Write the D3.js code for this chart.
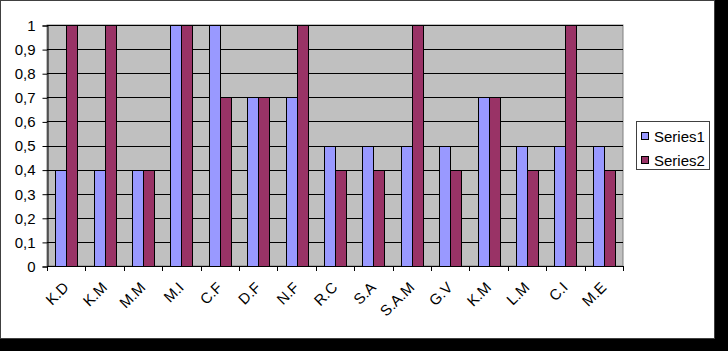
<!DOCTYPE html>
<html>
<head>
<meta charset="utf-8">
<script src="https://cdn.jsdelivr.net/npm/d3@7/dist/d3.min.js"></script>
<style>
  html, body { margin: 0; padding: 0; background: #000; }
  svg { display: block; }
  text { font-family: "Liberation Sans", Arial, sans-serif; }
</style>
</head>
<body>
<div id="chart"></div>
<script>
var categories = ["K.D", "K.M", "M.M", "M.I", "C.F", "D.F", "N.F", "R.C", "S.A", "S.A.M", "G.V", "K.M", "L.M", "C.I", "M.E"];
var series1 = [0.4, 0.4, 0.4, 1, 1, 0.7, 0.7, 0.5, 0.5, 0.5, 0.5, 0.7, 0.5, 0.5, 0.5];
var series2 = [1, 1, 0.4, 1, 0.7, 0.7, 1, 0.4, 0.4, 1, 0.4, 0.7, 0.4, 1, 0.4];
var seriesNames = ["Series1", "Series2"];
var yTicks = [0, 0.1, 0.2, 0.3, 0.4, 0.5, 0.6, 0.7, 0.8, 0.9, 1];

var w = 728, h = 351;
var plotLeft = 47, plotRight = 623, plotTop = 25, plotBottom = 266;
var colors = ["#9999FF", "#993366"];

var svg = d3.select("#chart").append("svg")
    .attr("width", w)
    .attr("height", h);

// background: black shadow, white chart area
svg.append("rect").attr("x", 0).attr("y", 0).attr("width", w).attr("height", h).attr("fill", "#000");
svg.append("rect")
    .attr("x", 0.5).attr("y", 0.5)
    .attr("width", 714).attr("height", 338)
    .attr("fill", "#fff")
    .attr("stroke", "#404040");

var xScale = d3.scaleBand()
    .domain(d3.range(categories.length))
    .range([plotLeft, plotRight]);
var yScale = d3.scaleLinear().domain([0, 1]).range([plotBottom, plotTop]);

// plot area
svg.append("rect")
    .attr("x", plotLeft).attr("y", plotTop)
    .attr("width", plotRight - plotLeft).attr("height", plotBottom - plotTop)
    .attr("fill", "#C0C0C0")
    .attr("stroke", "#808080");

// gridlines
svg.append("g")
    .selectAll("line")
    .data(yTicks.slice(1))
    .enter()
    .append("line")
    .attr("x1", plotLeft).attr("x2", plotRight)
    .attr("y1", function(d) { return Math.round(yScale(d)) + 0.5; })
    .attr("y2", function(d) { return Math.round(yScale(d)) + 0.5; })
    .attr("stroke", "#000");

// bars
var bw = xScale.bandwidth();
var barW = bw / 3.5;
var gap = (bw - 2 * barW) / 2;
var allSeries = [series1, series2];
allSeries.forEach(function(s, si) {
  svg.append("g")
      .selectAll("rect")
      .data(s)
      .enter()
      .append("rect")
      .attr("x", function(d, i) { return Math.round(xScale(i) + gap + si * barW) + 0.5; })
      .attr("y", function(d) { return Math.round(yScale(d)) + 0.5; })
      .attr("width", Math.round(barW))
      .attr("height", function(d) { return Math.round(yScale(0)) - Math.round(yScale(d)); })
      .attr("fill", colors[si])
      .attr("stroke", "#000")
      .attr("stroke-width", 1);
});

// y axis
var yAxis = d3.axisLeft(yScale)
    .tickValues(yTicks)
    .tickSize(5)
    .tickPadding(7)
    .tickFormat(function(d) { return d3.format(".1~f")(d).replace(".", ","); });
var gy = svg.append("g")
    .attr("transform", "translate(" + (plotLeft + 0.5) + ",0.5)")
    .call(yAxis);
gy.select(".domain").attr("stroke", "#000");
gy.selectAll("text").attr("font-size", 15).attr("fill", "#000")
    .attr("font-family", "'Liberation Sans', Arial, sans-serif");

// x axis: ticks at category boundaries
var gx = svg.append("g");
gx.append("line")
    .attr("x1", plotLeft).attr("x2", plotRight + 0.5)
    .attr("y1", plotBottom + 0.5).attr("y2", plotBottom + 0.5)
    .attr("stroke", "#000");
gx.selectAll("line.tick")
    .data(d3.range(categories.length + 1))
    .enter()
    .append("line")
    .attr("class", "tick")
    .attr("x1", function(i) { return Math.round(plotLeft + i * bw) + 0.5; })
    .attr("x2", function(i) { return Math.round(plotLeft + i * bw) + 0.5; })
    .attr("y1", plotBottom)
    .attr("y2", plotBottom + 5)
    .attr("stroke", "#000");
gx.selectAll("text")
    .data(categories)
    .enter()
    .append("text")
    .attr("transform", function(d, i) {
      return "translate(" + (xScale(i) + bw / 2 - 4) + "," + (plotBottom + 15) + ") rotate(-45)";
    })
    .attr("text-anchor", "end")
    .attr("dy", "0.7em")
    .attr("font-size", 15)
    .attr("fill", "#000")
    .text(function(d) { return d; });

// legend
var legend = svg.append("g");
legend.append("rect")
    .attr("x", 636.5).attr("y", 121.5)
    .attr("width", 73).attr("height", 48)
    .attr("fill", "#fff")
    .attr("stroke", "#404040");
seriesNames.forEach(function(name, i) {
  var ly = 132 + i * 24;
  legend.append("rect")
      .attr("x", 641.5).attr("y", ly + 0.5)
      .attr("width", 7).attr("height", 7)
      .attr("fill", colors[i])
      .attr("stroke", "#000");
  legend.append("text")
      .attr("x", 654).attr("y", ly + 10)
      .attr("font-size", 15)
      .attr("fill", "#000")
      .text(name);
});
</script>
</body>
</html>
